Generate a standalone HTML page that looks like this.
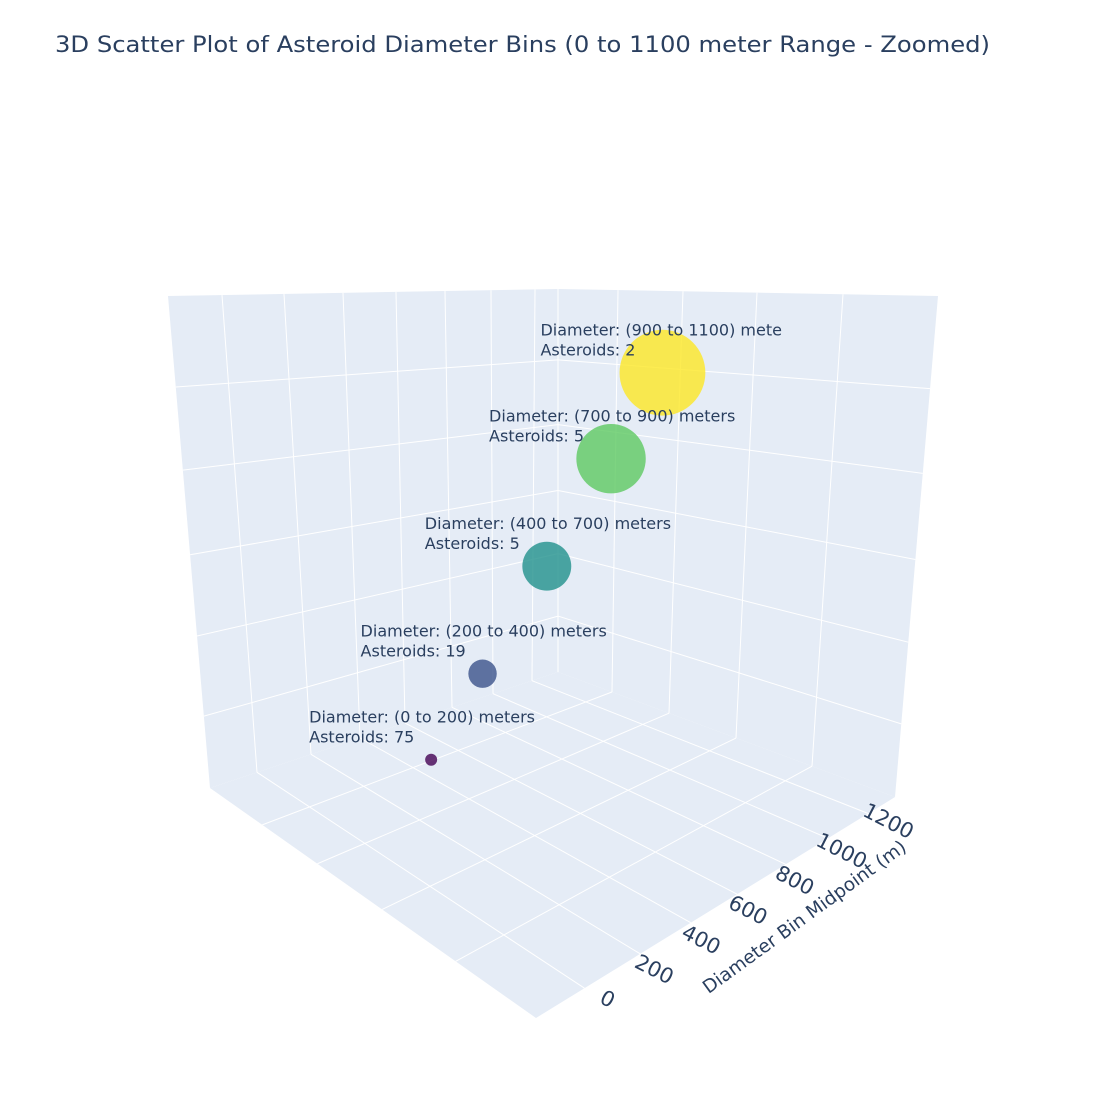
<!DOCTYPE html>
<html><head><meta charset="utf-8"><style>
html,body{margin:0;padding:0;background:#fff;}
svg text{font-family:"DejaVu Sans","Liberation Sans",sans-serif;fill:#2a3f5f;}
</style></head><body>
<svg id="chart" width="1100" height="1100" xmlns="http://www.w3.org/2000/svg">
<rect width="1100" height="1100" fill="#fff"/>
<text x="55" y="52" font-size="22" textLength="935" lengthAdjust="spacingAndGlyphs">3D Scatter Plot of Asteroid Diameter Bins (0 to 1100 meter Range - Zoomed)</text>
<g id="scene"></g>
<g id="ticks"></g>
<g id="marks"></g>
<text x="0" y="0" font-size="18.5" text-anchor="middle" transform="translate(808,922) rotate(-36)">Diameter Bin Midpoint (m)</text>
</svg>
<script>
const categories = ["(0 to 200)", "(200 to 400)", "(400 to 700)", "(700 to 900)", "(900 to 1100)"];
const midpoints = [100, 300, 550, 800, 1000];
const counts = [75, 19, 5, 5, 2];
const tickValues = [0, 200, 400, 600, 800, 1000, 1200];
const colors = ["#440154", "#3b528b", "#21918c", "#5ec962", "#fde725"];

const NS = "http://www.w3.org/2000/svg";
function mk(tag, attrs, parent){const e=document.createElementNS(NS,tag);for(const k in attrs)e.setAttribute(k,attrs[k]);parent.appendChild(e);return e;}
const scene=document.getElementById('scene');
const L=[210,788],B=[558,672],R=[895,797],F=[536,1018];
const TL=[168,296],TB=[558,289],TR=[938,296];
mk('polygon',{points:[TL,TB,B,L].join(' '),fill:'#e5ecf6'},scene);
mk('polygon',{points:[TB,TR,R,B].join(' '),fill:'#e5ecf6'},scene);
mk('polygon',{points:[L,B,R,F].join(' '),fill:'#e5ecf6'},scene);
function lerp(a,b,t){return [a[0]+(b[0]-a[0])*t,a[1]+(b[1]-a[1])*t];}
function line(p,q,name){const l=mk('line',{x1:p[0],y1:p[1],x2:q[0],y2:q[1],stroke:'#fff','stroke-width':1},scene);}
const lwTop=[222,284,343,396,445,491,535], lwBot=[257,311,360,405,452,493,532];
lwTop.forEach((x,i)=>{const t=(x-168)/390;const yt=296-7*t;const tb=(lwBot[i]-210)/348;line([x,yt],[lwBot[i],788-116*tb],'left-wall-gridline');});
const rwTop=[618,683,757,843], rwBot=[612,669,736,812];
rwTop.forEach((x,i)=>{const t=(x-558)/380;const tb=(rwBot[i]-558)/337;line([x,289+7*t],[rwBot[i],672+125*tb],'right-wall-gridline');});
const hf=[0.185,0.354,0.526,0.691,0.854];
hf.forEach(f=>{const a=lerp(TL,L,f),b=lerp(TB,B,f),c=lerp(TR,R,f);line(a,b,'left-wall-hline');line(b,c,'right-wall-hline');});
line(TB,B,'back-edge');
const fu=lwBot.map(x=>(x-210)/348), fv=rwBot.map(x=>(x-558)/337);
fu.forEach(u=>line(lerp(L,B,u),lerp(F,R,u),'floor-gridline'));
fv.forEach(v=>line(lerp(B,R,v),lerp(L,F,v),'floor-gridline'));
const ticks=document.getElementById('ticks');
function tickPos(v){const t=v/1200;return [607+(888-607)*t,1000+(822-1000)*t];}
tickValues.forEach(v=>{const p=tickPos(v);const t=mk('text',{x:0,y:0,'font-size':21,'text-anchor':'middle','dominant-baseline':'middle',transform:`translate(${p[0]},${p[1]}) rotate(27)`},ticks);t.textContent=v;

});
const marks=document.getElementById('marks');
function px(m){return 546.8+0.257*(m-550);}
function py(m){return 566.2-0.43*(m-550);}
function pr(m){return 6+(m-100)*0.041;}
midpoints.forEach((m,i)=>{
 const c=mk('circle',{cx:px(m),cy:py(m),r:pr(m),fill:colors[i],'fill-opacity':0.8},marks);
 
 
});
midpoints.forEach((m,i)=>{
 const x=px(m)-122,y=py(m)-37;
 let s="Diameter: "+categories[i]+" meters";
 if(i===4)s="Diameter: "+categories[i]+" mete";
 const t1=mk('text',{x:x,y:y,'font-size':16},marks);t1.textContent=s;
 
 
 const t2=mk('text',{x:x,y:y+20,'font-size':16},marks);t2.textContent="Asteroids: "+counts[i];
 
 
});
</script>
</body></html>
